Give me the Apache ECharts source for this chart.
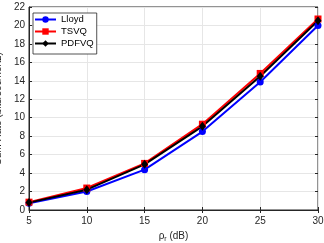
<!DOCTYPE html>
<html><head><meta charset="utf-8">
<script src="https://cdn.jsdelivr.net/npm/echarts@6/dist/echarts.min.js"></script>
<style>html,body{margin:0;padding:0;background:#fff}#c{width:324px;height:243px}</style>
</head><body><div id="c"></div>
<script>
const xValues = [5, 10, 15, 20, 25, 30];
const lloyd = [0.72, 2.0, 4.37, 8.5, 13.87, 20.0];
const tsvq = [0.85, 2.38, 5.05, 9.3, 14.8, 20.7];
const pdfvq = [0.8, 2.2, 4.95, 9.07, 14.5, 20.5];
const seriesNames = ['Lloyd', 'TSVQ', 'PDFVQ'];

const axisCol = '#262626';
const font = 'Liberation Sans, Arial, Helvetica, sans-serif';
function pts(arr){ return xValues.map((x,i)=>[x, arr[i]]); }
const chart = echarts.init(document.getElementById('c'));
const common = {type:'line', lineStyle:{width:2}, symbolSize:7, animation:false, z:3};
chart.setOption({
  animation:false,
  textStyle:{fontFamily:font},
  grid:{left:29, right:6, top:7, bottom:33, containLabel:false, outerBoundsMode:'none', show:true, borderColor:axisCol, borderWidth:1},
  legend:{
    left:33, top:13, orient:'vertical', itemGap:1, itemWidth:21, itemHeight:8,
    backgroundColor:'#fff', borderColor:axisCol, borderWidth:0.8, padding:[1,3,5,1],
    textStyle:{fontSize:9.5, lineHeight:11, color:'#000', fontFamily:font},
    data:seriesNames
  },
  xAxis:[{
    type:'value', min:5, max:30, interval:5,
    name:'ρ{sub|r} (dB)', nameLocation:'middle', nameGap:16,
    nameTextStyle:{fontSize:10, color:axisCol, fontFamily:font, rich:{sub:{fontSize:7, verticalAlign:'bottom', padding:[6,0,0,0], color:axisCol, fontFamily:font}}},
    axisLine:{lineStyle:{color:axisCol}},
    axisTick:{inside:true, length:3, lineStyle:{color:axisCol}},
    axisLabel:{fontSize:10, color:axisCol, margin:6, fontFamily:font},
    splitLine:{show:true, lineStyle:{color:'#e6e6e6'}}
  },{
    type:'value', position:'top', min:5, max:30, interval:5,
    axisLine:{show:false}, axisTick:{inside:true, length:3, lineStyle:{color:axisCol}},
    axisLabel:{show:false}, splitLine:{show:false}
  }],
  yAxis:[{
    type:'value', min:0, max:22, interval:2,
    name:'Sum Rate (bits/sec/hertz)', nameLocation:'middle', nameGap:21,
    nameTextStyle:{fontSize:10, color:axisCol, fontFamily:font},
    axisLine:{show:true, lineStyle:{color:axisCol}},
    axisTick:{show:true, inside:true, length:3, lineStyle:{color:axisCol}},
    axisLabel:{fontSize:10, color:axisCol, margin:4, fontFamily:font},
    splitLine:{show:true, lineStyle:{color:'#e6e6e6'}}
  },{
    type:'value', position:'right', min:0, max:22, interval:2,
    axisLine:{show:false}, axisTick:{show:true, inside:true, length:3, lineStyle:{color:axisCol}},
    axisLabel:{show:false}, splitLine:{show:false}
  }],
  series:[
    Object.assign({}, common, {name:seriesNames[0], data:pts(lloyd), symbol:'circle', color:'#0000ff'}),
    Object.assign({}, common, {name:seriesNames[1], data:pts(tsvq), symbol:'rect', color:'#ff0000'}),
    Object.assign({}, common, {name:seriesNames[2], data:pts(pdfvq), symbol:'diamond', symbolSize:[7,9], color:'#000000'})
  ]
});
</script></body></html>
